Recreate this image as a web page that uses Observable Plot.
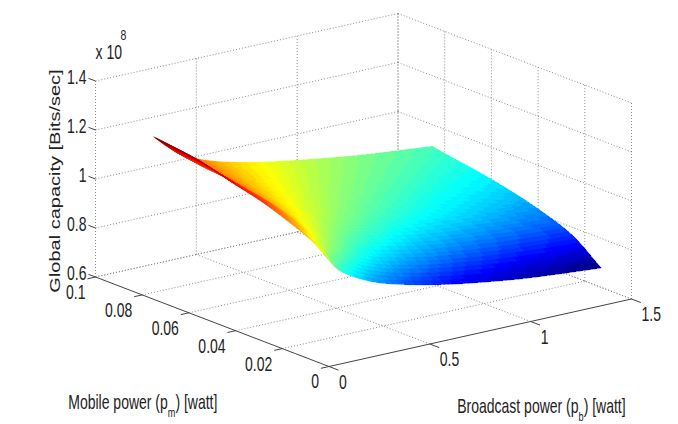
<!DOCTYPE html>
<html>
<head>
<meta charset="utf-8">
<script src="https://cdn.jsdelivr.net/npm/d3@7"></script>
<script src="https://cdn.jsdelivr.net/npm/@observablehq/plot@0.6"></script>
<style>html,body{margin:0;background:#fff}svg{display:block;background:#fff}</style>
</head>
<body>
<div id="chart"></div>
<script>
// Axis ticks
const pbTicks = [0, 0.5, 1, 1.5];
const pmTicks = [0, 0.02, 0.04, 0.06, 0.08, 0.1];
const capTicks = [0.6, 0.8, 1, 1.2, 1.4];

// Surface sample positions
const pbValues = [0.12, 0.18, 0.255, 0.375, 0.495, 0.63, 0.78, 0.945, 1.11, 1.29, 1.5];
const pmValues = [0.0128, 0.025, 0.039, 0.052, 0.065, 0.075, 0.0851];

// Global capacity (x 10^8 bits/sec), one list for each mobile power value
const capPm1 = [1.007, 0.925, 0.876, 0.827, 0.796, 0.769, 0.745, 0.724, 0.706, 0.692, 0.678];
const capPm2 = [1.058, 1.020, 0.973, 0.918, 0.878, 0.850, 0.826, 0.806, 0.790, 0.777, 0.766];
const capPm3 = [1.107, 1.078, 1.028, 0.981, 0.945, 0.916, 0.888, 0.868, 0.853, 0.836, 0.818];
const capPm4 = [1.139, 1.105, 1.058, 1.012, 0.981, 0.952, 0.927, 0.904, 0.884, 0.869, 0.852];
const capPm5 = [1.175, 1.130, 1.080, 1.034, 1.004, 0.978, 0.953, 0.931, 0.913, 0.893, 0.878];
const capPm6 = [1.190, 1.145, 1.090, 1.048, 1.018, 0.994, 0.970, 0.948, 0.929, 0.913, 0.893];
const capPm7 = [1.202, 1.155, 1.105, 1.060, 1.030, 1.005, 0.983, 0.962, 0.943, 0.927, 0.910];
const capacity = [capPm1, capPm2, capPm3, capPm4, capPm5, capPm6, capPm7];

const capMin = 0.678, capMax = 1.202;
const jetStops = ["#000080","#0000ff","#0080ff","#00ffff","#80ff80","#ffff00","#ff8000","#ff0000","#800000"];
const jet64 = d3.quantize(d3.piecewise(d3.interpolateRgb, jetStops), 64);

// Orthographic 3D view: data -> view plane
const pbMax = 1.5, pmMax = 0.1, capBase = 0.6;
const view = {xPb: 302.5, xPm: -233.5, yPb: 67.5, yPm: 89.5, yCap: 245};
const vx = (pb, pm) => view.xPb * pb / pbMax + view.xPm * pm / pmMax;
const vy = (pb, pm, c) => view.yPb * pb / pbMax + view.yPm * pm / pmMax + view.yCap * (c - capBase);

// Smooth shading between table entries (rendering only, like shading interp)
function shade(xs, fs, x) {
  let i = Math.min(xs.length - 2, Math.max(0, d3.bisectRight(xs, x) - 1));
  const h = xs[i + 1] - xs[i], s = (x - xs[i]) / h;
  const slope = k => {
    const a = Math.max(0, k - 1), b = Math.min(xs.length - 1, k + 1);
    return (fs[b] - fs[a]) / (xs[b] - xs[a]);
  };
  const s2 = s * s, s3 = s2 * s;
  return (2 * s3 - 3 * s2 + 1) * fs[i] + (s3 - 2 * s2 + s) * h * slope(i) + (-2 * s3 + 3 * s2) * fs[i + 1] + (s3 - s2) * h * slope(i + 1);
}
const capAt = (pb, pm) => shade(pmValues, capacity.map(row => shade(pbValues, row, pb)), pm);

// Surface facets, back to front
const splitPb = 8, splitPm = 8;
const fine = (xs, n) => xs.slice(0, -1).flatMap((x, i) => d3.range(n).map(k => x + (xs[i + 1] - x) * k / n)).concat(xs[xs.length - 1]);
const pbFine = fine(pbValues, splitPb), pmFine = fine(pmValues, splitPm);
const surfaceRows = [];
let facetId = 0;
for (let j = pmFine.length - 2; j >= 0; j--) for (let i = pbFine.length - 2; i >= 0; i--) {
  const pb0 = pbFine[i], pb1 = pbFine[i + 1], pm0 = pmFine[j], pm1 = pmFine[j + 1];
  const c00 = capAt(pb0, pm0), c10 = capAt(pb1, pm0), c01 = capAt(pb0, pm1), c11 = capAt(pb1, pm1);
  const val = (c00 + c10 + c01 + c11) / 4, id = facetId++;
  surfaceRows.push({id, val, x1: vx(pb0, pm0), y1: vy(pb0, pm0, c00), x2: vx(pb0, pm1), y2: vy(pb0, pm1, c01)});
  surfaceRows.push({id, val, x1: vx(pb1, pm0), y1: vy(pb1, pm0, c10), x2: vx(pb1, pm1), y2: vy(pb1, pm1, c11)});
}

// Grid lines on the two back walls and the floor
const seg = (a, b, c, d, e, f) => ({x1: vx(a, b), y1: vy(a, b, c), x2: vx(d, e), y2: vy(d, e, f)});
const capTop = capTicks[capTicks.length - 1];
const grid = [
  ...capTicks.flatMap(c => [seg(0, pmMax, c, pbMax, pmMax, c), seg(pbMax, pmMax, c, pbMax, 0, c)]),
  ...pbTicks.map(p => seg(p, pmMax, capBase, p, pmMax, capTop)),
  ...pmTicks.map(p => seg(pbMax, p, capBase, pbMax, p, capTop)),
  ...pbTicks.slice(1).map(p => seg(p, 0, capBase, p, pmMax, capBase)),
  ...pmTicks.slice(1).map(p => seg(0, p, capBase, pbMax, p, capBase))
];
const axes = [seg(0, 0, capBase, pbMax, 0, capBase), seg(0, 0, capBase, 0, pmMax, capBase)];
const ticks = [
  ...pbTicks.map(p => seg(p, 0, capBase, p, -0.004, capBase)),
  ...pmTicks.map(p => seg(0, p, capBase, -0.04, p, capBase)),
  ...capTicks.map(c => seg(0, pmMax, c, 0, pmMax + 0.003, c))
];

const font = {fontFamily: "'Liberation Sans', Arial, sans-serif", fill: "#222"};
const P = (pb, pm, c) => ({x: vx(pb, pm), y: vy(pb, pm, c)});
const lbl = (rows, o) => Plot.text(rows, {x: "x", y: "y", text: "t", fontSize: 20, ...font, ...o});

const plot = Plot.plot({
  width: 678, height: 424, margin: 0,
  style: {background: "#fff", overflow: "visible"},
  x: {axis: null, domain: [-328.5, 349.5], range: [0, 678]},
  y: {axis: null, domain: [-58, 366], range: [424, 0]},
  color: {type: "quantize", domain: [capMin, capMax], range: jet64, n: 64},
  marks: [
    Plot.link(grid, {x1: "x1", y1: "y1", x2: "x2", y2: "y2", stroke: "#8a8a8a", strokeWidth: 1, strokeDasharray: "1,2"}),
    Plot.area(surfaceRows, {x1: "x1", y1: "y1", x2: "x2", y2: "y2", z: "id", fill: "val", stroke: "val", strokeWidth: 0.5, shapeRendering: "crispEdges"}),
    Plot.link(axes, {x1: "x1", y1: "y1", x2: "x2", y2: "y2", stroke: "#444", strokeWidth: 1}),
    Plot.link(ticks, {x1: "x1", y1: "y1", x2: "x2", y2: "y2", stroke: "#444", strokeWidth: 1}),
    lbl(pbTicks.map(p => ({...P(p, 0, capBase), t: String(p)})), {textAnchor: "start", dx: 10, dy: 16}),
    lbl(pmTicks.map(p => ({...P(0, p, capBase), t: String(p)})), {textAnchor: "end", dx: -10, dy: 15.5}),
    lbl(capTicks.map(c => ({...P(0, pmMax, c), t: String(c)})), {textAnchor: "end", dx: -9, dy: -3}),
    lbl([{...P(0, pmMax, capTop), t: "x 10"}], {textAnchor: "start", dx: 0, dy: -28}),
    lbl([{...P(0, pmMax, capTop), t: "8"}], {textAnchor: "start", dx: 25, dy: -46, fontSize: 15}),
    lbl([{...P(0, pmMax / 2, capBase), t: "Mobile power (pm) [watt]"}], {textAnchor: "start", dx: -144, dy: 81}),
    lbl([{...P(pbMax / 2, 0, capBase), t: "Broadcast power (pb) [watt]"}], {textAnchor: "start", dx: -23, dy: 74}),
    lbl([{...P(0, pmMax, 1), t: "Global capacity [Bits/sec]"}], {rotate: -90, dx: -40, dy: 2})
  ]
});
document.getElementById("chart").append(plot);

// The reference's text is horizontally condensed; subscripts are real tspans.
plot.querySelectorAll("text").forEach(t => {
  const tr = t.getAttribute("transform") || "";
  if (/translate\(/.test(tr)) t.setAttribute("transform", tr.replace(/translate\(([^)]*)\)/, "translate($1) scale(0.7,1)"));
});
const subscript = (node) => {
  const m = node.textContent.match(/^(.*\(p)([mb])(\).*)$/);
  if (!m) return;
  node.textContent = "";
  node.append(m[1]);
  const sub = document.createElementNS("http://www.w3.org/2000/svg", "tspan");
  sub.setAttribute("dy", "8"); sub.setAttribute("font-size", "13"); sub.textContent = m[2];
  const rest = document.createElementNS("http://www.w3.org/2000/svg", "tspan");
  rest.setAttribute("dy", "-8"); rest.textContent = m[3];
  node.append(sub, rest);
};
plot.querySelectorAll("text").forEach(subscript);
</script>
</body>
</html>
